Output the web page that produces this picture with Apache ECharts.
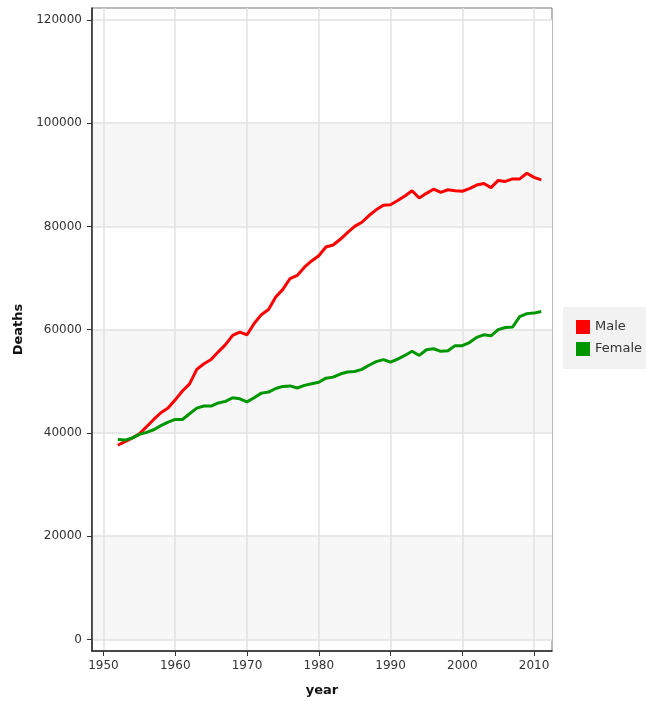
<!DOCTYPE html>
<html>
<head>
<meta charset="utf-8">
<title>Deaths by year</title>
<script src="https://cdn.jsdelivr.net/npm/echarts@6/dist/echarts.min.js"></script>
<style>
  html, body { margin: 0; padding: 0; background: #fff; }
  #main { width: 646px; height: 702px; }
</style>
</head>
<body>
<div id="main"></div>
<script>
// years 1952..2011
var years = [1952,1953,1954,1955,1956,1957,1958,1959,1960,1961,1962,1963,1964,1965,1966,1967,1968,1969,1970,
  1971,1972,1973,1974,1975,1976,1977,1978,1979,1980,1981,1982,1983,1984,1985,1986,1987,1988,1989,1990,
  1991,1992,1993,1994,1995,1996,1997,1998,1999,2000,2001,2002,2003,2004,2005,2006,2007,2008,2009,2010,2011];

var male = [37600,38300,39000,39800,41200,42600,43900,44800,46400,48100,49500,52300,53400,54200,55700,57100,58900,59500,59000,
  61200,62900,63900,66300,67800,69900,70500,72100,73300,74300,76000,76400,77500,78800,80000,80800,82100,83200,84100,84200,
  85000,85900,86900,85500,86400,87200,86600,87100,86900,86800,87300,88000,88300,87500,88900,88700,89200,89200,90300,89500,89000];

var female = [38700,38600,39000,39700,40100,40600,41400,42100,42600,42600,43700,44800,45200,45200,45800,46100,46800,46600,46000,
  46800,47700,47900,48600,49000,49100,48700,49200,49500,49800,50600,50800,51400,51800,51900,52300,53100,53800,54200,53700,
  54300,55000,55800,55000,56100,56300,55800,55900,56900,56900,57500,58500,59000,58800,60000,60400,60500,62500,63100,63200,63500];

var xTicks = [1950,1960,1970,1980,1990,2000,2010];
var yTicks = [0,20000,40000,60000,80000,100000,120000];

var FONT = 'DejaVu Sans';

function pairs(vals) {
  return years.map(function (y, i) { return [y, vals[i]]; });
}

var myChart = echarts.init(document.getElementById('main'));

var option = {
  animation: false,
  textStyle: { fontFamily: FONT },
  grid: {
    left: 92, right: 94, top: 8, bottom: 50,
    show: true,
    borderColor: '#777',
    borderWidth: 1
  },
  legend: {
    data: ['Male', 'Female'],
    orient: 'vertical',
    left: 563,
    top: 307,
    backgroundColor: '#f2f2f2',
    padding: [13, 12, 13, 13],
    itemGap: 8,
    itemWidth: 14,
    itemHeight: 14,
    icon: 'rect',
    textStyle: { fontFamily: FONT, fontSize: 13, color: '#333' }
  },
  xAxis: {
    type: 'value',
    min: 1948.4,
    max: 2012.5,
    splitNumber: 6,
    name: 'year',
    nameLocation: 'middle',
    nameGap: 33,
    nameTextStyle: { fontFamily: FONT, fontSize: 13, fontWeight: 'bold', color: '#111' },
    axisLine: { show: true, onZero: false, lineStyle: { color: '#222', width: 1.5 } },
    axisTick: { show: true, customValues: xTicks, length: 5, lineStyle: { color: '#333' } },
    axisLabel: {
      customValues: xTicks, margin: 9, fontSize: 12, color: '#333', fontFamily: FONT,
      formatter: function (v) { return String(v); }
    },
    splitLine: { show: true, lineStyle: { color: '#e2e2e2', width: 1.5 } }
  },
  yAxis: {
    type: 'value',
    min: -2250,
    max: 122300,
    splitNumber: 6,
    name: 'Deaths',
    nameLocation: 'middle',
    nameGap: 58,
    nameTextStyle: { fontFamily: FONT, fontSize: 13, fontWeight: 'bold', color: '#111' },
    axisLine: { show: true, onZero: false, lineStyle: { color: '#222', width: 1.5 } },
    axisTick: { show: true, customValues: yTicks, length: 5, lineStyle: { color: '#333' } },
    axisLabel: {
      customValues: yTicks, margin: 10, fontSize: 12, color: '#333', fontFamily: FONT,
      formatter: function (v) { return String(v); }
    },
    splitLine: { show: true, lineStyle: { color: '#e2e2e2', width: 1.5 } },
    splitArea: { show: true, areaStyle: { color: ['#f7f7f7', '#ffffff'] } }
  },
  series: [
    {
      name: 'Male',
      type: 'line',
      data: pairs(male),
      showSymbol: false,
      symbol: 'none',
      itemStyle: { color: '#ff0000' },
      lineStyle: { color: '#ff0000', width: 3 }
    },
    {
      name: 'Female',
      type: 'line',
      data: pairs(female),
      showSymbol: false,
      symbol: 'none',
      itemStyle: { color: '#009600' },
      lineStyle: { color: '#009600', width: 3 }
    }
  ]
};

myChart.setOption(option);
</script>
</body>
</html>
